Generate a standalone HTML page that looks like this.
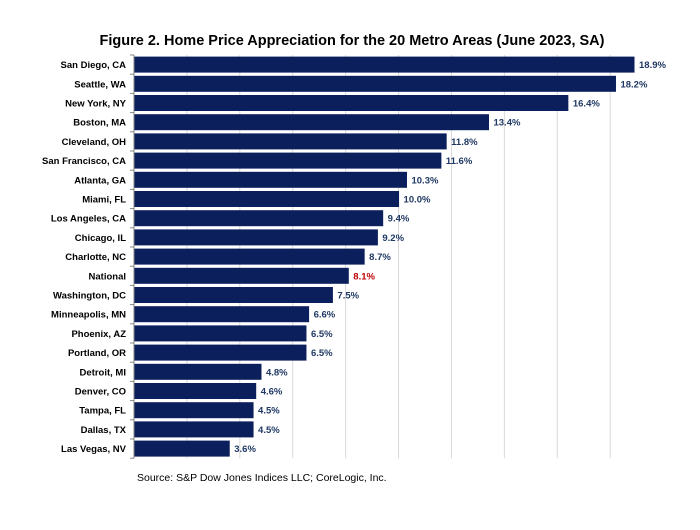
<!DOCTYPE html>
<html><head><meta charset="utf-8"><style>
body{margin:0;background:#fff;width:700px;height:525px;overflow:hidden;font-family:"Liberation Sans",sans-serif}
</style></head><body>
<svg width="700" height="525">
<text x="352" y="45" text-anchor="middle" font-size="14.5" font-weight="bold" fill="#000">Figure 2. Home Price Appreciation  for the 20 Metro Areas (June 2023, SA)</text>
<g id="grid"></g><g id="bars"></g>
<text x="137" y="481" font-size="10.5" fill="#000">Source: S&amp;P Dow Jones Indices LLC; CoreLogic, Inc.</text>
</svg>
<script>
const categories=["San Diego, CA","Seattle, WA","New York, NY","Boston, MA","Cleveland, OH","San Francisco, CA","Atlanta, GA","Miami, FL","Los Angeles, CA","Chicago, IL","Charlotte, NC","National","Washington, DC","Minneapolis, MN","Phoenix, AZ","Portland, OR","Detroit, MI","Denver, CO","Tampa, FL","Dallas, TX","Las Vegas, NV"];
const values=[18.9,18.2,16.4,13.4,11.8,11.6,10.3,10.0,9.4,9.2,8.7,8.1,7.5,6.6,6.5,6.5,4.8,4.6,4.5,4.5,3.6];
const gridTicks=[2,4,6,8,10,12,14,16,18];
const NS="http://www.w3.org/2000/svg";
const x0=134,pxPer=500/18.9,plotTop=55,step=19.2,bh=16;
const xs=v=>x0+v*pxPer, ys=i=>plotTop+i*step;
const g=document.getElementById('grid'),b=document.getElementById('bars');
function mk(tag,attrs,parent){const e=document.createElementNS(NS,tag);for(const k in attrs)e.setAttribute(k,attrs[k]);parent.appendChild(e);return e;}
gridTicks.forEach(t=>{const l=mk('line',{x1:xs(t),x2:xs(t),y1:plotTop,y2:ys(categories.length),stroke:'#d9d9d9','stroke-width':1},g);

});
const ax=mk('line',{x1:x0,x2:x0,y1:plotTop,y2:ys(categories.length),stroke:'#868686','stroke-width':1},g);


for(let i=0;i<=categories.length;i++){const tk=mk('line',{x1:x0-4,x2:x0,y1:ys(i),y2:ys(i),stroke:'#868686'},g);

}
categories.forEach((c,i)=>{
const y=ys(i)+(step-bh)/2;
const r=mk('rect',{x:x0+0.5,y:y,width:xs(values[i])-x0,height:bh,fill:'#0a1f5c'},b);


const lb=mk('text',{x:x0-8,y:y+bh/2+3.5,'text-anchor':'end','font-size':'9.5','font-weight':'bold',fill:'#000'},b);
lb.textContent=c;


const vl=mk('text',{x:xs(values[i])+5,y:y+bh/2+3.5,'font-size':'9.5','font-weight':'bold',fill:c==='National'?'#c00000':'#1f3864'},b);
vl.textContent=values[i].toFixed(1)+'%';


});
</script>
</body></html>
